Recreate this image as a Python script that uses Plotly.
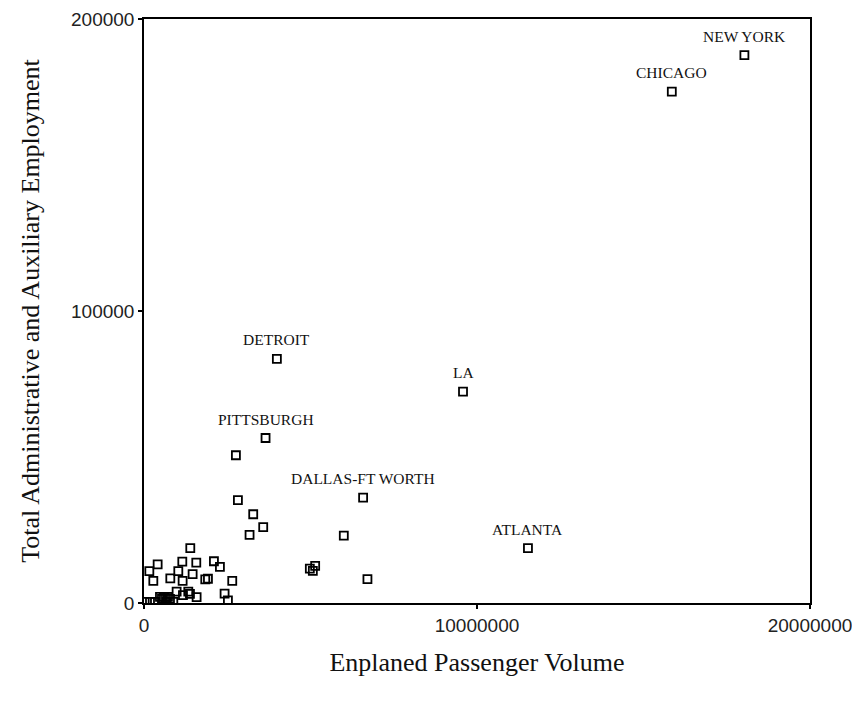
import plotly.graph_objects as go

# Enplaned passenger volume (x) and total admin & auxiliary employment (y)
passengers = [
    18030000, 15850000, 3990000, 9580000, 3650000, 11530000, 6580000,
    2760000, 2820000, 3280000, 3580000, 3170000, 6000000,
    5140000, 5070000, 4980000, 6710000,
    2280000, 2650000, 2420000, 2520000,
    1390000, 410000, 1150000, 1570000, 2100000,
    160000, 1030000, 1460000, 790000, 1160000, 1840000, 1920000, 280000,
    980000, 1330000, 1380000, 1580000, 1170000,
    480000, 600000, 720000, 540000, 780000, 660000,
    20000, 180000, 330000, 680000, 880000,
]
employment = [
    187600, 175100, 83600, 72400, 56500, 18800, 36100,
    50600, 35200, 30400, 26000, 23300, 23100,
    12700, 11000, 11800, 8200,
    12400, 7600, 3200, 900,
    18800, 13200, 14200, 13800, 14300,
    10900, 10900, 9900, 8400, 7600, 8100, 8300, 7600,
    3900, 3900, 3100, 2000, 2700,
    2100, 2100, 2100, 1400, 1400, 1700,
    400, 400, 400, 400, 400,
]

# Labelled cities (index into the arrays above)
city_names = ["NEW YORK", "CHICAGO", "DETROIT", "LA", "PITTSBURGH", "ATLANTA", "DALLAS-FT WORTH"]
city_index = [0, 1, 2, 3, 4, 5, 6]

x_ticks = [0, 10000000, 20000000]
y_ticks = [0, 100000, 200000]

fig = go.Figure()
fig.add_trace(go.Scatter(
    x=passengers, y=employment, mode="markers",
    marker=dict(symbol="square-open", size=8, color="black",
                line=dict(color="black", width=1.8)),
    showlegend=False, hoverinfo="x+y",
))

for name, i in zip(city_names, city_index):
    fig.add_annotation(
        x=passengers[i], y=employment[i], text=name, showarrow=False,
        yshift=19, font=dict(family="Liberation Serif", size=15.5, color="#111"),
    )

axis_common = dict(
    showgrid=False, zeroline=False, showline=True, linecolor="black",
    linewidth=1.5, mirror=True, ticks="outside", ticklen=4, tickwidth=2,
    tickcolor="black", automargin=False, ticklabeloverflow="allow",
    tickfont=dict(family="Liberation Sans", size=19, color="#222"),
)

fig.update_xaxes(
    range=[0, 20000000], tickvals=x_ticks,
    ticktext=[str(v) for v in x_ticks],
    title=dict(text="Enplaned Passenger Volume", standoff=18,
               font=dict(family="Liberation Serif", size=26, color="#111")),
    **axis_common,
)
fig.update_yaxes(
    range=[0, 200000], tickvals=y_ticks,
    ticktext=[str(v) for v in y_ticks],
    title=dict(text="Total Administrative and Auxiliary Employment", standoff=24,
               font=dict(family="Liberation Serif", size=26, color="#111")),
    **axis_common,
)

fig.update_layout(
    width=860, height=704,
    margin=dict(l=136, r=58, t=11, b=109),
    plot_bgcolor="white", paper_bgcolor="white",
)

fig.write_html("out.html")
